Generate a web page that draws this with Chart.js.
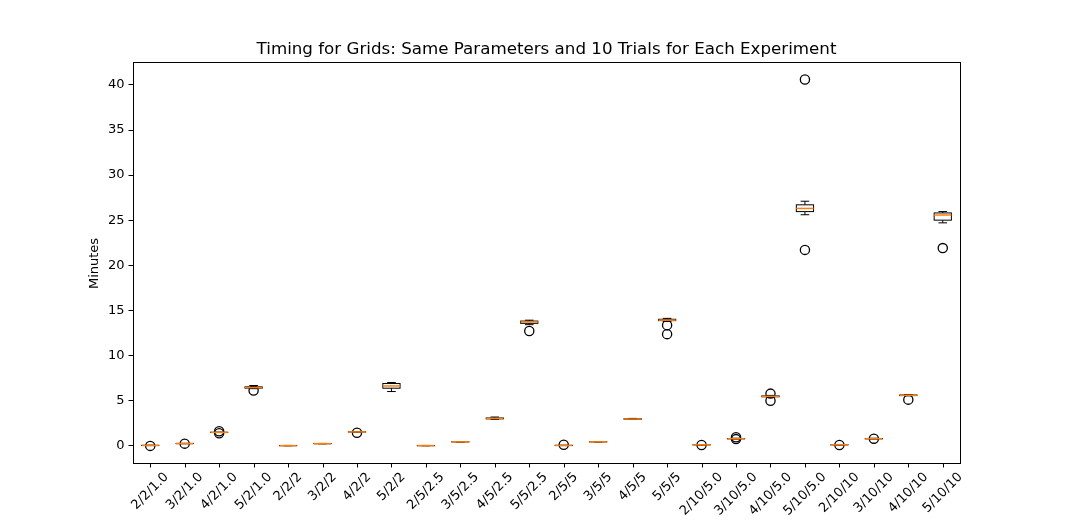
<!DOCTYPE html>
<html><head><meta charset="utf-8">
<script src="https://cdn.jsdelivr.net/npm/chart.js@4.4.0/dist/chart.umd.min.js"></script>
<style>html,body{margin:0;padding:0;background:#fff}#wrap{width:1067px;height:520px;position:relative}</style>
</head><body><div id="wrap"><canvas id="c"></canvas></div>
<script>
const categories = ["2/2/1.0","3/2/1.0","4/2/1.0","5/2/1.0","2/2/2","3/2/2","4/2/2","5/2/2","2/5/2.5","3/5/2.5","4/5/2.5","5/5/2.5","2/5/5","3/5/5","4/5/5","5/5/5","2/10/5.0","3/10/5.0","4/10/5.0","5/10/5.0","2/10/10","3/10/10","4/10/10","5/10/10"];
const whiskerLow  = [-0.02,0.19,1.43,6.3, -0.04,0.18,1.48,5.98, -0.04,0.38,2.9, 13.4, -0.02,0.38,2.88,13.75, 0.05,0.72,5.35,25.6, 0.05,0.72,5.5, 24.7];
const q1          = [-0.01,0.2, 1.44,6.36,-0.03,0.19,1.49,6.35, -0.03,0.39,2.95,13.55,-0.01,0.39,2.9, 13.85, 0.06,0.73,5.4, 25.95,0.06,0.73,5.53,25.0];
const median      = [0.0, 0.21,1.45,6.42,-0.02,0.2, 1.5, 6.6,  -0.02,0.4, 3.0, 13.7, 0.0, 0.4, 2.93,13.9,  0.07,0.75,5.45,26.3, 0.07,0.75,5.57,25.57];
const q3          = [0.01,0.22,1.46,6.5, -0.01,0.21,1.51,6.87, -0.01,0.41,3.05,13.8, 0.01,0.41,2.96,14.0,  0.08,0.77,5.5, 26.7, 0.08,0.77,5.6, 25.8];
const whiskerHigh = [0.02,0.23,1.47,6.65,0.0, 0.22,1.52,6.98, 0.0, 0.42,3.15,13.9, 0.02,0.42,3.0, 14.1,  0.09,0.8, 5.55,27.1, 0.09,0.8, 5.65,25.95];
const outliers = [[-0.05],[0.2],[1.58,1.35],[6.1],[],[],[1.4],[],[],[],[],[12.7],[0.08],[],[],[13.35,12.35],[0.05],[0.9,0.7],[5.75,4.95],[21.7,40.6],[0.05],[0.75],[5.08],[21.9]];
const yTicks = [0,5,10,15,20,25,30,35,40];
const titleText = "Timing for Grids: Same Parameters and 10 Trials for Each Experiment";
const yLabel = "Minutes";

const FONT = "'DejaVu Sans', sans-serif";
const FS = 13;
const outlierPts = [];
outliers.forEach((arr,i)=>arr.forEach(v=>outlierPts.push({x:categories[i],y:v})));

const boxPlugin = {
  id:'boxPlugin',
  afterDatasetsDraw(chart){
    const ctx = chart.ctx, xs = chart.scales.x, ys = chart.scales.y;
    const cw = xs.getPixelForValue(1) - xs.getPixelForValue(0);
    const bw = cw*0.5, capw = bw*0.5;
    ctx.save();
    categories.forEach((c,i)=>{
      const x = xs.getPixelForValue(i);
      const yl = ys.getPixelForValue(whiskerLow[i]), yh = ys.getPixelForValue(whiskerHigh[i]);
      const y1 = ys.getPixelForValue(q1[i]), y3 = ys.getPixelForValue(q3[i]);
      const ym = ys.getPixelForValue(median[i]);
      ctx.strokeStyle='#000'; ctx.lineWidth=1;
      ctx.beginPath();
      ctx.moveTo(x,y1); ctx.lineTo(x,yl);
      ctx.moveTo(x-capw/2,yl); ctx.lineTo(x+capw/2,yl);
      ctx.moveTo(x,y3); ctx.lineTo(x,yh);
      ctx.moveTo(x-capw/2,yh); ctx.lineTo(x+capw/2,yh);
      ctx.stroke();
      ctx.strokeRect(x-bw/2, y3, bw, y1-y3);
      ctx.strokeStyle='#ff7f0e'; ctx.lineWidth=1.5;
      ctx.beginPath(); ctx.moveTo(x-bw/2,ym); ctx.lineTo(x+bw/2,ym); ctx.stroke();
    });
    ctx.restore();
  },
  afterDraw(chart){
    const ctx = chart.ctx, xs = chart.scales.x, a = chart.chartArea;
    ctx.save();
    ctx.strokeStyle='#000'; ctx.lineWidth=1;
    ctx.strokeRect(Math.round(a.left)+0.5, Math.round(a.top)+0.5, Math.round(a.right-a.left), Math.round(a.bottom-a.top));
    ctx.font = FS+"px "+FONT; ctx.fillStyle='#000';
    ctx.textAlign='center'; ctx.textBaseline='middle';
    categories.forEach((c,i)=>{
      const x = Math.round(xs.getPixelForValue(i))+0.5;
      ctx.beginPath(); ctx.moveTo(x,a.bottom); ctx.lineTo(x,a.bottom+4.5); ctx.stroke();
      const w = ctx.measureText(c).width, h = FS;
      const cy = a.bottom + 7.5 + (w+h)/(2*Math.SQRT2);
      ctx.save(); ctx.translate(xs.getPixelForValue(i), cy); ctx.rotate(-Math.PI/4);
      ctx.fillText(c,0,0); ctx.restore();
    });
    ctx.font = "16.7px "+FONT; ctx.textBaseline='alphabetic';
    ctx.fillText(titleText, (a.left+a.right)/2, a.top-8);
    ctx.font = FS+"px "+FONT;
    ctx.save(); ctx.translate(95,(a.top+a.bottom)/2+1); ctx.rotate(-Math.PI/2);
    ctx.textBaseline='middle'; ctx.fillText(yLabel,0,0); ctx.restore();
    ctx.restore();
  }
};

new Chart(document.getElementById('c'), {
  type:'bar',
  data:{
    labels:categories,
    datasets:[
      {type:'bar', data:categories.map((c,i)=>[q1[i],q3[i]]), backgroundColor:'rgba(0,0,0,0)', borderWidth:0, barPercentage:0.5, categoryPercentage:1.0, order:2},
      {type:'line', data:outlierPts, showLine:false, pointRadius:4.6, pointHoverRadius:4.6, pointBorderWidth:1.3, pointBorderColor:'#000', pointBackgroundColor:'rgba(0,0,0,0)', order:1}
    ]
  },
  options:{
    responsive:true, maintainAspectRatio:false, animation:false, devicePixelRatio:1,
    layout:{padding:{left:0,right:107,top:62,bottom:0}},
    plugins:{legend:{display:false}, tooltip:{enabled:false}, title:{display:false}},
    scales:{
      x:{type:'category', offset:true, grid:{display:false, drawTicks:false}, border:{display:false}, ticks:{display:false},
         afterFit(s){ s.height = 57; }},
      y:{min:-1.95, max:42.55, border:{display:false},
         grid:{drawOnChartArea:false, drawTicks:true, tickLength:4.5, color:'#000', tickWidth:1},
         ticks:{color:'#000', font:{family:FONT,size:FS}, padding:4, autoSkip:false,
           callback:(v)=>yTicks.includes(v)?String(v):''},
         afterBuildTicks(s){ s.ticks = yTicks.map(v=>({value:v})); },
         afterFit(s){ s.width = 133; }}
    }
  },
  plugins:[boxPlugin]
});
</script></body></html>
